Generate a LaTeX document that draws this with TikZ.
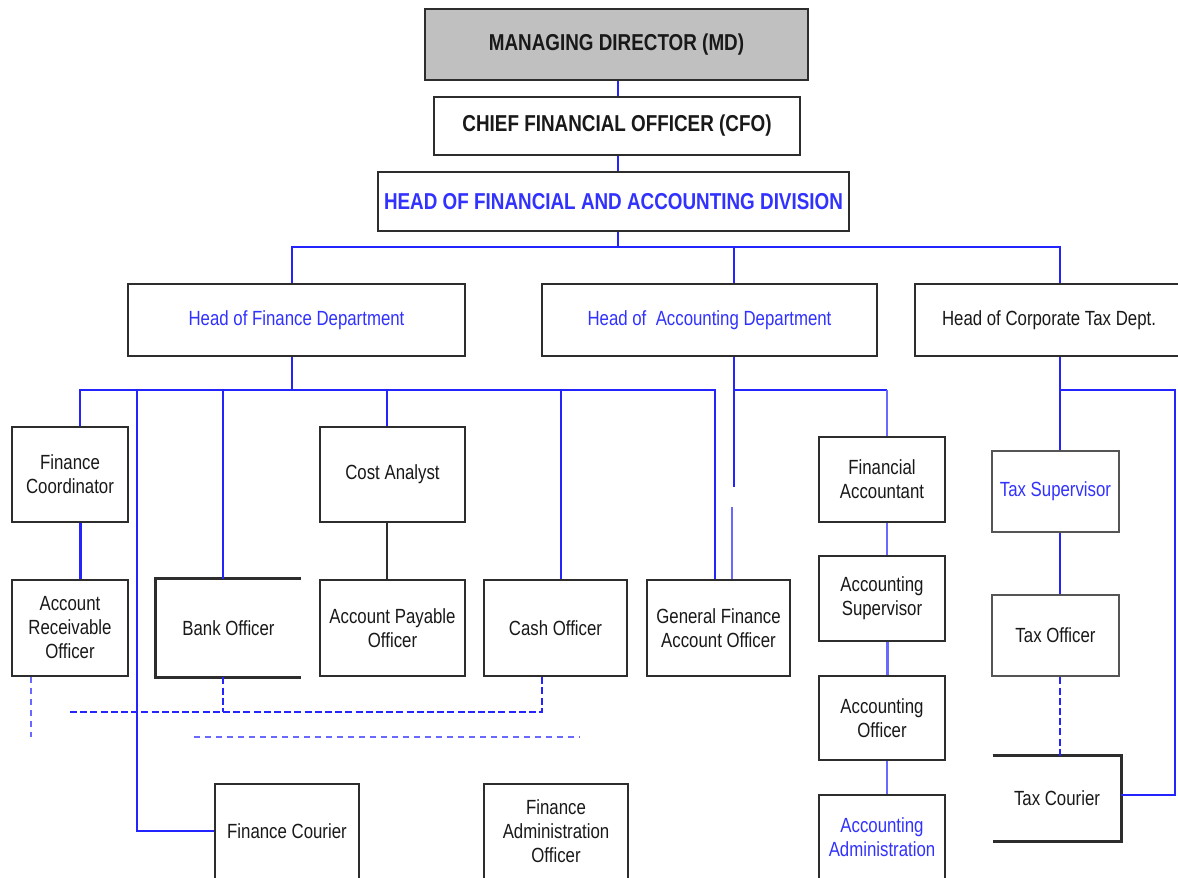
\documentclass[tikz,border=0pt]{standalone}
\usepackage{fontspec}
\setmainfont{Liberation Sans}[FakeStretch=0.82]
\usetikzlibrary{calc}
\definecolor{linkblue}{RGB}{36,36,255}
\definecolor{paleblue}{RGB}{105,105,255}
\definecolor{labelblue}{RGB}{50,50,255}
\definecolor{edge}{RGB}{45,45,45}
\definecolor{softedge}{RGB}{85,85,85}
\definecolor{mdgray}{RGB}{192,192,192}
\definecolor{ink}{RGB}{25,25,25}

\begin{document}
\begin{tikzpicture}[x=0.5pt,y=-0.5pt,
  wh/.style 2 args={minimum width=#1*0.5pt, minimum height=#2*0.5pt},
  lab/.style={inner sep=0pt, align=center, text=ink, font=\fontsize{10.25}{12}\selectfont},
  box/.style={lab, draw=edge, line width=1.4pt, fill=white},
  head/.style={box, font=\fontsize{11.5}{13}\selectfont\bfseries},
  bluetext/.style={text=labelblue},
  frame/.style={draw=edge, line width=1.4pt},
  link/.style={draw=linkblue, line width=1pt},
  thicklink/.style={draw=linkblue, line width=1.5pt},
  paleline/.style={draw=paleblue, line width=1pt},
  costline/.style={draw=edge, line width=0.7pt},
  dashlink/.style={draw=linkblue, line width=0.9pt, dash pattern=on 3.5pt off 1.6pt},
  faintdash/.style={draw=paleblue, line width=0.8pt, dash pattern=on 3pt off 2.5pt}
]
\useasboundingbox (0,0) rectangle (1178,878);
\clip (0,0) rectangle (1178,878);

% ---- top of the hierarchy ----
\node[head, fill=mdgray, wh={383}{71}] (md) at (616.5,44.5) {MANAGING DIRECTOR (MD)};
\node[head, wh={366}{58}] (cfo) at (617,126) {CHIEF FINANCIAL OFFICER (CFO)};
\node[head, bluetext, wh={471}{59}] (hfad) at (613.5,201.5) {HEAD OF FINANCIAL AND ACCOUNTING DIVISION};

% ---- departments ----
\node[box, bluetext, wh={337}{72}] (hfin) at (296.5,320) {Head of Finance Department};
\node[box, bluetext, wh={335}{72}] (hacc) at (709.5,320) {Head of\ \ Accounting Department};
\node[box, wh={268}{72}] (htax) at (1049,320) {Head of Corporate Tax Dept.};

% ---- second row ----
\node[box, wh={116}{95}] (fcoord) at (70,474.5) {Finance\\Coordinator};
\node[box, wh={145}{95}] (cost) at (392.5,474.5) {Cost Analyst};
\node[box, wh={126}{85}] (finacc) at (882,479.5) {Financial\\Accountant};
\node[box, bluetext, draw=softedge, wh={127}{81}] (taxsup) at (1055.5,491.5) {Tax Supervisor};

% ---- third row ----
\node[box, wh={116}{96}] (aro) at (70,628) {Account\\Receivable\\Officer};
\node[box, draw=none, wh={143}{96}] (bank) at (228.5,628) {Bank Officer};
\node[box, wh={145}{96}] (apo) at (392.5,628) {Account Payable\\Officer};
\node[box, wh={143}{96}] (cash) at (555.5,628) {Cash Officer};
\node[box, wh={143}{96}] (gfao) at (718.5,628) {General Finance\\Account Officer};
\node[box, wh={126}{85}] (accsup) at (882,598.5) {Accounting\\Supervisor};
\node[box, draw=softedge, wh={127}{81}] (taxoff) at (1055.5,635.5) {Tax Officer};
\node[box, wh={126}{84}] (accoff) at (882,718) {Accounting\\Officer};
\node[box, draw=none, wh={126}{83}] (taxcour) at (1057,798.5) {Tax Courier};

% open-sided boxes
\draw[frame] (bank.north east) -- (bank.north west) -- (bank.south west) -- (bank.south east);
\draw[frame] (taxcour.north west) -- (taxcour.north east) -- (taxcour.south east) -- (taxcour.south west);

% ---- bottom row, running past the lower edge ----
\node[box, wh={126}{120}] (accadm) at (882,855) {};
\node[lab, bluetext] (accadmtext) at (882,837) {Accounting\\Administration};
\node[box, wh={144}{120}] (fcour) at (287,844) {};
\node[lab] (fcourtext) at (287,831) {Finance Courier};
\node[box, wh={144}{120}] (fao) at (556,844) {};
\node[lab] (faotext) at (556,831) {Finance\\Administration\\Officer};

% ---- reporting lines from the top ----
\coordinate (busM) at (618,247);
\coordinate (busL) at (292,247);
\coordinate (busA) at (734,247);
\coordinate (busR) at (1060,247);
\draw[link] (busM |- md.south) -- (busM |- cfo.north);
\draw[link] (busM |- cfo.south) -- (busM |- hfad.north);
\draw[link] (busM |- hfad.south) -- (busM);
\draw[link] (busL |- hfin.north) -- (busL) -- (busR) -- (busR |- htax.north);
\draw[link] (busA) -- (busA |- hacc.north);

% ---- finance department ----
\coordinate (fTop) at (292,390);
\coordinate (f1) at (80,390);
\coordinate (f2) at (137,390);
\coordinate (f3) at (223,390);
\coordinate (f4) at (387,390);
\coordinate (f5) at (561,390);
\coordinate (f6) at (715,390);
\coordinate (fcBend) at (137,831);
\draw[link] (fTop |- hfin.south) -- (fTop);
\draw[link] (f1 |- fcoord.north) -- (f1) -- (f6) -- (f6 |- gfao.north);
\draw[link] (f2) -- (fcBend) -- (fcBend -| fcour.west);
\draw[link] (f3) -- (f3 |- bank.north);
\draw[link] (f4) -- (f4 |- cost.north);
\draw[link] (f5) -- (f5 |- cash.north);
\draw[thicklink] (f1 |- fcoord.south) -- (f1 |- aro.north);
\draw[costline] (f4 |- cost.south) -- (f4 |- apo.north);

% dashed links under the finance boxes
\coordinate (dAro) at (31,737);
\coordinate (dh1) at (70,712);
\coordinate (dBank) at (223,712);
\coordinate (dh2) at (542,712);
\coordinate (dl1) at (194,737);
\coordinate (dl2) at (580,737);
\draw[faintdash] (dAro |- aro.south) -- (dAro);
\draw[dashlink] (dBank |- bank.south) -- (dBank);
\draw[dashlink] (dh1) -- (dh2) -- (dh2 |- cash.south);
\draw[faintdash] (dl1) -- (dl2);

% ---- accounting department ----
\coordinate (a1) at (734,390);
\coordinate (aGapTop) at (734,487);
\coordinate (aGapBot) at (732,507);
\coordinate (a2) at (887,390);
\draw[link] (a1 |- hacc.south) -- (aGapTop);
\draw[paleline] (aGapBot) -- (aGapBot |- gfao.north);
\draw[link] (a1) -- (a2);
\draw[paleline] (a2) -- (a2 |- finacc.north);
\draw[paleline] (a2 |- finacc.south) -- (a2 |- accsup.north);
\draw[thicklink, draw=paleblue] (a2 |- accsup.south) -- (a2 |- accoff.north);
\draw[paleline] (a2 |- accoff.south) -- (a2 |- accadm.north);

% ---- corporate tax department ----
\coordinate (t1) at (1060,390);
\coordinate (t2) at (1175,390);
\coordinate (t3) at (1175,795);
\draw[link] (t1 |- htax.south) -- (t1 |- taxsup.north);
\draw[link] (t1) -- (t2) -- (t3) -- (t3 -| taxcour.east);
\draw[link] (t1 |- taxsup.south) -- (t1 |- taxoff.north);
\draw[dashlink] (t1 |- taxoff.south) -- (t1 |- taxcour.north);
\end{tikzpicture}
\end{document}
